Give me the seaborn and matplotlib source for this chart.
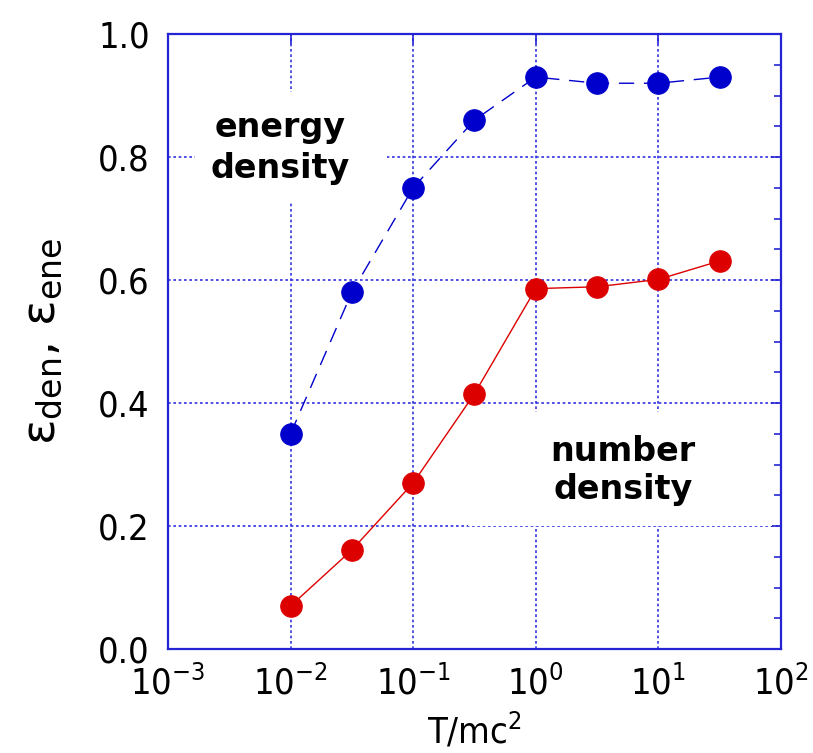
import matplotlib
matplotlib.use("Agg")
import os
import matplotlib.pyplot as plt
from matplotlib import font_manager
from matplotlib.patches import Rectangle
from matplotlib.ticker import MultipleLocator, LogLocator, NullLocator, FormatStrFormatter
import seaborn as sns
import pandas as pd

# temperature grid (T / mc^2) and the two efficiencies
T = [0.01, 0.0316, 0.1, 0.316, 1.0, 3.16, 10.0, 31.6]
eps_ene = [0.35, 0.58, 0.75, 0.86, 0.93, 0.92, 0.92, 0.93]
eps_den = [0.07, 0.161, 0.27, 0.415, 0.586, 0.589, 0.601, 0.631]

label_ene = ["energy", "density"]
label_den = ["number", "density"]

df = pd.DataFrame({"T": T, "ene": eps_ene, "den": eps_den})

sns.set_style("white")


def find_narrow():
    """Pick a condensed sans face for the numerals, if one is installed."""
    files = font_manager.findSystemFonts()
    for p in ["liberationsansnarrow-regular", "dejavusanscondensed."]:
        for f in files:
            if p in os.path.basename(f).lower():
                return f
    return None


nf = find_narrow()
narrow, stretch = "Liberation Sans", "normal"
if nf:
    font_manager.fontManager.addfont(nf)
    for e in font_manager.fontManager.ttflist:
        if os.path.abspath(e.fname) == os.path.abspath(nf):
            narrow = e.name
            stretch = e.stretch
            break
    if stretch == "normal":
        stretch = "condensed"

math_rm = f"{narrow}:stretch={stretch}"

plt.rcParams["font.family"] = [narrow, "DejaVu Sans"]
plt.rcParams["font.stretch"] = stretch
plt.rcParams["text.color"] = "black"
plt.rcParams["axes.labelcolor"] = "black"
plt.rcParams["mathtext.fontset"] = "custom"
plt.rcParams["mathtext.rm"] = math_rm
plt.rcParams["mathtext.it"] = math_rm
plt.rcParams["mathtext.sf"] = math_rm
plt.rcParams["mathtext.default"] = "regular"

BLUE = "#0000cc"
RED = "#dd0000"
AXC = "#2424d4"

fig = plt.figure(figsize=(8.13, 7.53), dpi=100)
ax = fig.add_axes([0.2066, 0.1381, 0.754, 0.8167])

sns.lineplot(data=df, x="T", y="ene", ax=ax, color=BLUE, linewidth=1.0,
             linestyle=(0, (11, 7)), marker="o", markersize=15.5,
             markeredgecolor=BLUE, markerfacecolor=BLUE, zorder=3)
sns.lineplot(data=df, x="T", y="den", ax=ax, color=RED, linewidth=1.0,
             linestyle="-", marker="o", markersize=15.5,
             markeredgecolor=RED, markerfacecolor=RED, zorder=3)

ax.set_xscale("log")
ax.set_xlim(1e-3, 1e2)
ax.set_ylim(0.0, 1.0)
ax.xaxis.set_major_locator(LogLocator(base=10, numticks=10))
ax.xaxis.set_minor_locator(NullLocator())
ax.yaxis.set_major_locator(MultipleLocator(0.2))
ax.yaxis.set_minor_locator(MultipleLocator(0.05))
ax.yaxis.set_major_formatter(FormatStrFormatter("%.1f"))

ax.set_axisbelow(True)
ax.grid(True, which="major", color="#3434e0", linestyle=(0, (1.6, 1.6)), linewidth=1.2)

for s in ax.spines.values():
    s.set_color(AXC)
    s.set_linewidth(1.6)
    s.set_zorder(4)

ax.tick_params(which="both", direction="in", colors=AXC, top=True, right=True,
               labelcolor="black", labelsize=26)
ax.tick_params(which="major", length=7, width=1.2)
ax.tick_params(which="minor", length=5, width=1.2)
ax.tick_params(axis="x", pad=12)
ax.tick_params(axis="y", pad=13)

ax.set_xlabel(r"T/mc$^{2}$", fontsize=26, labelpad=7, color="black")
ax.set_ylabel(r"$\mathregular{ε_{den}}$, $\mathregular{ε_{ene}}$", fontsize=34,
              family=["DejaVu Sans"], stretch="normal", labelpad=24, color="black")

# white panels behind the curve labels
ax.add_patch(Rectangle((0.044, 0.725), 0.313, 0.18, transform=ax.transAxes,
                       facecolor="white", edgecolor="none", zorder=1))
ax.add_patch(Rectangle((0.49, 0.2), 0.495, 0.185, transform=ax.transAxes,
                       facecolor="white", edgecolor="none", zorder=1))

bold = ["DejaVu Sans"]
ax.text(0.183, 0.815, "\n".join(label_ene), transform=ax.transAxes, ha="center",
        va="center", fontsize=24, fontweight="bold", family=bold, stretch="normal",
        color="black", linespacing=1.3, zorder=5)
ax.text(0.742, 0.29, "\n".join(label_den), transform=ax.transAxes, ha="center",
        va="center", fontsize=24, fontweight="bold", family=bold, stretch="normal",
        color="black", linespacing=1.2, zorder=5)

fig.savefig("out.png", dpi=100)
